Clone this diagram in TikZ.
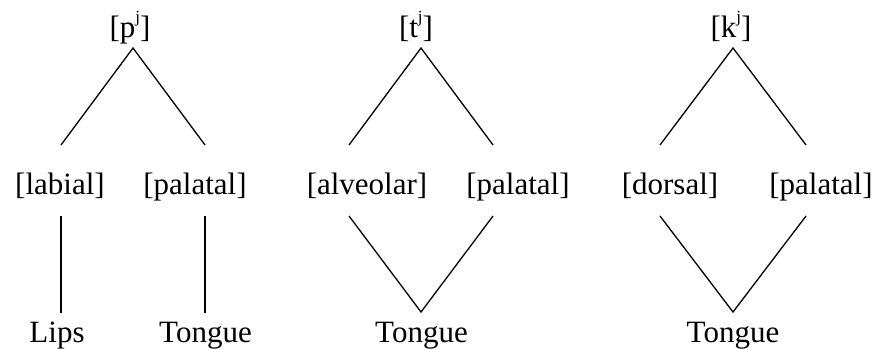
\documentclass[tikz,border=0pt]{standalone}
\usepackage{fontspec}
\setmainfont{Liberation Serif}
\newcommand{\palsup}{\raisebox{15pt}{\fontsize{17}{17}\selectfont j}}
\begin{document}
\begin{tikzpicture}[x=1pt,y=-1pt,
  lab/.style={anchor=base,inner sep=0pt,font=\fontsize{31}{36}\selectfont},
  seg/.style={line width=1.3pt}]
\useasboundingbox (0,0) rectangle (877,348);
% panel 1
\node[lab] (p) at (130,37) {[p\palsup]};
\node[lab] (lab1) at (60,194) {[labial]};
\node[lab] (pal1) at (195,194) {[palatal]};
\node[lab] (lips) at (57,342) {Lips};
\node[lab] (ton1) at (205.5,342) {Tongue};
\coordinate (pa) at (133,48);
\coordinate (l1t) at (61,145);
\coordinate (r1t) at (205,145);
\coordinate (l1b) at (61,216);
\coordinate (r1b) at (205,216);
\coordinate (lipsT) at (61,313);
\coordinate (ton1T) at (205,313);
\draw[seg] (l1t) -- (pa) -- (r1t);
\draw[seg] (l1b) -- (lipsT);
\draw[seg] (r1b) -- (ton1T);
% panel 2
\node[lab] (t) at (416,37) {[t\palsup]};
\node[lab] (alv) at (367,194) {[alveolar]};
\node[lab] (pal2) at (518,194) {[palatal]};
\node[lab] (ton2) at (421.5,342) {Tongue};
\coordinate (ta) at (421,48);
\coordinate (l2t) at (349,145);
\coordinate (r2t) at (493,145);
\coordinate (l2b) at (349,216);
\coordinate (r2b) at (493,216);
\coordinate (ton2T) at (421,312);
\draw[seg] (l2t) -- (ta) -- (r2t);
\draw[seg] (l2b) -- (ton2T) -- (r2b);
% panel 3
\node[lab] (k) at (731,37) {[k\palsup]};
\node[lab] (dor) at (670,194) {[dorsal]};
\node[lab] (pal3) at (821,194) {[palatal]};
\node[lab] (ton3) at (733,342) {Tongue};
\coordinate (ka) at (733,48);
\coordinate (l3t) at (660,145);
\coordinate (r3t) at (806,145);
\coordinate (l3b) at (660,216);
\coordinate (r3b) at (806,216);
\coordinate (ton3T) at (733,312);
\draw[seg] (l3t) -- (ka) -- (r3t);
\draw[seg] (l3b) -- (ton3T) -- (r3b);
\end{tikzpicture}
\end{document}
